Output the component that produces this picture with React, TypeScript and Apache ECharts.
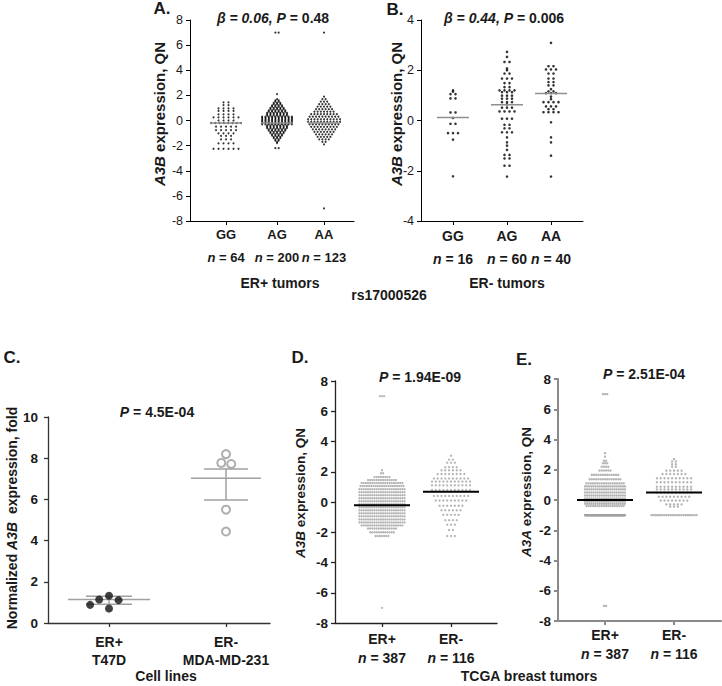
import React, { useEffect, useRef } from "react";
import * as echarts from "echarts";

// ---------------- data ----------------
// Panels A/B: rs17000526 genotypes
const genotypes = ["GG", "AG", "AA"];
const nA = [64, 200, 123];
const nB = [16, 60, 40];

// Panel A (ER+ tumors): rows of the dot plot, QN level and number of dots
const aGG_levels = [1.45, 1.23, 0.97, 0.76, 0.49, 0.25, 0.0, -0.2, -0.49, -0.76, -1.02, -1.23, -1.5, -1.82, -2.25];
const aGG_counts = [2, 2, 4, 4, 4, 6, 4, 8, 5, 5, 4, 3, 3, 4, 6];
const aAG_levels = [7.0, 2.1, 1.7, 1.6, 1.5, 1.4, 1.3, 1.2, 1.1, 1.0, 0.9, 0.8, 0.7, 0.6, 0.5, 0.4, 0.3, 0.2, 0.1, 0.0, -0.1, -0.2, -0.3, -0.4, -0.5, -0.6, -0.7, -0.8, -0.9, -1.0, -1.1, -1.2, -1.3, -1.4, -1.5, -1.6, -1.7, -1.8, -2.2];
const aAG_counts = [2, 1, 1, 2, 2, 3, 3, 4, 4, 5, 5, 6, 6, 7, 7, 7, 10, 10, 10, 10, 10, 10, 10, 7, 7, 7, 6, 6, 5, 5, 4, 4, 3, 3, 2, 2, 1, 1, 2];
const aAA_levels = [7.0, 1.9, 1.7, 1.5, 1.3, 1.1, 0.9, 0.7, 0.5, 0.3, 0.1, -0.1, -0.3, -0.5, -0.7, -0.9, -1.1, -1.3, -1.5, -1.7, -1.9, -7.0];
const aAA_counts = [1, 1, 2, 3, 4, 5, 6, 7, 9, 10, 11, 11, 10, 9, 8, 7, 6, 5, 4, 2, 1, 1];
const aMedians = [-0.2, -0.2, -0.2];

// Panel B (ER- tumors): individual values
const bGG = [1.2, 1.15, 1.05, 1.05, 0.88, 0.88, 0.32, 0.32, 0.1, -0.13, -0.13, -0.5, -0.5, -0.5, -0.76, -2.22];
const bAG = [2.73, 2.53, 2.33, 2.33, 2.07, 2.0, 1.87, 1.87, 1.67, 1.67, 1.67, 1.49, 1.49, 1.33, 1.33, 1.2, 1.2, 1.2, 1.2, 1.13, 1.13, 1.13, 0.99, 0.99, 0.99, 0.87, 0.87, 0.87, 0.73, 0.73, 0.73, 0.64, 0.51, 0.51, 0.51, 0.36, 0.36, 0.36, 0.36, 0.07, 0.07, 0.07, -0.17, -0.17, -0.31, -0.31, -0.47, -0.47, -0.47, -0.67, -0.87, -1.0, -1.17, -1.37, -1.37, -1.51, -1.51, -1.8, -1.8, -2.23];
const bAA = [3.09, 2.16, 2.16, 2.03, 2.03, 2.03, 1.87, 1.87, 1.67, 1.67, 1.53, 1.53, 1.4, 1.4, 1.25, 1.16, 1.16, 1.09, 1.09, 1.09, 0.95, 0.85, 0.73, 0.73, 0.73, 0.73, 0.56, 0.56, 0.56, 0.45, 0.45, 0.33, 0.33, 0.33, 0.33, -0.07, -0.67, -0.87, -1.4, -2.23];
const bMedians = [0.12, 0.63, 1.07];

// Panel C: cell lines
const cLabels = ["ER+\nT47D", "ER-\nMDA-MD-231"];
const cERpos = [1.32, 1.14, 1.11, 0.88, 0.7];
const cERneg = [8.2, 7.77, 7.72, 5.5, 4.44];
const cMean = [1.14, 7.03];
const cLower = [0.91, 5.97];
const cUpper = [1.3, 7.48];

// Panels D/E: TCGA breast tumors
const tLabels = ["ER+", "ER-"];
const tN = [387, 116];
const dPos_levels = [7.0, 2.1, 1.9, 1.65, 1.45, 1.25, 1.05, 0.85, 0.65, 0.45, 0.25, 0.05, -0.15, -0.35, -0.55, -0.75, -0.95, -1.15, -1.35, -1.55, -1.75, -2.0, -2.25, -7.0];
const dPos_counts = [3, 1, 2, 8, 14, 20, 21, 22, 22, 22, 22, 22, 22, 22, 22, 22, 22, 22, 22, 20, 14, 12, 7, 1];
const dNeg_levels = [3.06, 2.8, 2.6, 2.3, 2.1, 1.85, 1.55, 1.35, 1.1, 0.8, 0.4, 0.1, -0.25, -0.55, -0.85, -1.2, -1.5, -1.85, -2.25];
const dNeg_counts = [1, 2, 3, 4, 6, 8, 10, 11, 11, 11, 10, 9, 7, 6, 5, 4, 3, 2, 3];
const dMeans = [-0.21, 0.67];
const ePos_levels = [7.0, 3.1, 2.87, 2.6, 2.43, 2.2, 1.95, 1.66, 1.37, 1.1, 0.9, 0.7, 0.5, 0.3, 0.1, -0.1, -0.25, -0.4, -1.0, -7.0];
const ePos_counts = [3, 1, 1, 2, 3, 4, 6, 13, 15, 18, 20, 20, 20, 20, 20, 20, 20, 18, 161, 2];
const eNeg_levels = [2.7, 2.54, 2.36, 2.2, 1.94, 1.72, 1.44, 1.17, 0.88, 0.7, 0.49, 0.22, -0.04, -0.29, -0.44, -1.0];
const eNeg_counts = [1, 2, 2, 2, 5, 7, 10, 10, 10, 10, 10, 9, 8, 5, 3, 22];
const eMeans = [0.0, 0.49];

// ---------------- layout helpers ----------------
const FONT = "'Liberation Sans', Arial, Helvetica, sans-serif";
const TXT = "#1a1a1a";
type Pt = [number, number];

function rowLayout(levels: number[], counts: number[], center: number, spacing: number, maxWidth: number): Pt[] {
  const pts: Pt[] = [];
  levels.forEach((v, i) => {
    const n = counts[i];
    const s = n > 1 ? Math.min(spacing, maxWidth / (n - 1)) : 0;
    for (let k = 0; k < n; k++) pts.push([center + (k - (n - 1) / 2) * s, v]);
  });
  return pts;
}
function grouped(values: number[]) {
  const m = new Map<number, number>();
  values.forEach((v) => m.set(v, (m.get(v) || 0) + 1));
  return { levels: [...m.keys()], counts: [...m.values()] };
}
function beeswarm(values: number[], center: number, pxPerUnit: number, d: number): Pt[] {
  const placed: { x: number; y: number; v: number }[] = [];
  [...values].sort((a, b) => b - a).forEach((v) => {
    const y = v * pxPerUnit;
    const near = placed.filter((p) => Math.abs(p.y - y) < d);
    const need = (p: { y: number }) => Math.sqrt(d * d - (p.y - y) * (p.y - y));
    const cands = [0];
    near.forEach((p) => cands.push(p.x + need(p), p.x - need(p)));
    cands.sort((a, b) => Math.abs(a) - Math.abs(b) || a - b);
    const x = cands.find((c) => near.every((p) => Math.abs(p.x - c) >= need(p) - 1e-6)) ?? 0;
    placed.push({ x, y, v });
  });
  return placed.map((p) => [center + p.x, p.v] as Pt);
}

// grids (pixels)
const GRIDS = [
  { left: 190, top: 20, width: 164, height: 201 },
  { left: 421, top: 20, width: 162, height: 201 },
  { left: 48, top: 417, width: 222, height: 206 },
  { left: 335, top: 381, width: 162, height: 242 },
  { left: 558, top: 379, width: 163, height: 242 },
];
const POS_A = [36, 87, 134];
const POS_B = [32, 86, 130];
const POS_C = [61, 178];
const POS_D = [47, 116];
const POS_E = [47, 116];

function idx(pos: number[], v: number) {
  return pos.findIndex((p) => Math.abs(p - v) < 0.5);
}

function richSet(size: number, lh: number) {
  const base = { fontSize: size, fontWeight: "bold" as const, fontFamily: FONT, color: TXT, lineHeight: lh };
  return { c: { ...base }, ni: { ...base, fontStyle: "italic" as const }, nv: { ...base } };
}

function xAxisFor(g: number, pos: number[], fmt: (i: number) => string, size: number, lh: number, margin: number, color: string, lw: number) {
  return {
    type: "value", gridIndex: g, min: 0, max: GRIDS[g].width,
    splitLine: { show: false },
    axisLine: { show: true, onZero: false, lineStyle: { color, width: lw } },
    axisTick: { show: true, customValues: pos, length: 4, lineStyle: { color, width: lw } },
    axisLabel: {
      show: true, customValues: pos, margin, hideOverlap: false, showMinLabel: true, showMaxLabel: true,
      formatter: (v: number) => fmt(idx(pos, v)),
      rich: richSet(size, lh),
    },
  };
}
function yAxisFor(g: number, min: number, max: number, interval: number, size: number, bold: boolean, margin: number, color: string, lw: number) {
  return {
    type: "value", gridIndex: g, min, max, interval,
    splitLine: { show: false },
    axisLine: { show: true, onZero: false, lineStyle: { color, width: lw } },
    axisTick: { show: true, length: 4, lineStyle: { color, width: lw } },
    axisLabel: {
      margin, hideOverlap: false, showMinLabel: true, showMaxLabel: true,
      fontSize: size, fontWeight: bold ? "bold" : "normal", fontFamily: FONT, color: TXT,
    },
  };
}

function hline(g: number, c: number, half: number, v: number, color: string, width: number, z = 4) {
  return {
    type: "line", xAxisIndex: g, yAxisIndex: g, data: [[c - half, v], [c + half, v]],
    symbol: "none", lineStyle: { color, width }, silent: true, z,
  };
}
function vline(g: number, c: number, lo: number, hi: number, color: string, width: number, z = 4) {
  return {
    type: "line", xAxisIndex: g, yAxisIndex: g, data: [[c, lo], [c, hi]],
    symbol: "none", lineStyle: { color, width }, silent: true, z,
  };
}
function dots(g: number, data: Pt[], color: string, size: number, z = 3) {
  return {
    type: "scatter", xAxisIndex: g, yAxisIndex: g, data, symbol: "circle", symbolSize: size,
    itemStyle: { color }, silent: true, z,
  };
}

function text(x: number, y: number, t: string, size: number, rot = 0, weight = "bold") {
  const base = { fontSize: size, fontWeight: weight, fontFamily: FONT, fill: TXT };
  return {
    type: "text", x, y, rotation: rot, silent: true,
    style: {
      text: t, ...base, align: "center", verticalAlign: "middle",
      rich: { i: { ...base, fontStyle: "italic" }, b: { ...base } },
    },
  };
}

function buildOption() {
  const aDots = [
    ...rowLayout(aGG_levels, aGG_counts, POS_A[0], 5, 30),
    ...rowLayout(aAG_levels, aAG_counts, POS_A[1], 3.3, 32),
    ...rowLayout(aAA_levels, aAA_counts, POS_A[2], 3.2, 34),
  ];
  const bGroups = [bGG, bAG, bAA].map(grouped);
  const bDots = bGroups.flatMap((gr, i) => rowLayout(gr.levels, gr.counts, POS_B[i], 5, 40));
  const cPos = beeswarm(cERpos, POS_C[0], 20.5, 10.5);
  const cNeg = beeswarm(cERneg, POS_C[1], 20.5, 10);
  const dDots = [
    ...rowLayout(dPos_levels, dPos_counts, POS_D[0], 2.15, 46),
    ...rowLayout(dNeg_levels, dNeg_counts, POS_D[1], 3.8, 46),
  ];
  const eDots = [
    ...rowLayout(ePos_levels, ePos_counts, POS_E[0], 2.2, 40),
    ...rowLayout(eNeg_levels, eNeg_counts, POS_E[1], 3.8, 45),
  ];

  const gray = "#8f8f8f";
  const series: any[] = [
    dots(0, aDots, "#000", 2),
    ...aMedians.map((m, i) => hline(0, POS_A[i], 16, m, gray, 1.5)),
    dots(1, bDots, "#000", 2.6),
    ...bMedians.map((m, i) => hline(1, POS_B[i], 16, m, gray, 1.5)),
    hline(2, POS_C[0], 41, cMean[0], "#a0a0a0", 1.5, 2),
    hline(2, POS_C[0], 23, cLower[0], "#a0a0a0", 1.5, 2),
    hline(2, POS_C[0], 23, cUpper[0], "#a0a0a0", 1.5, 2),
    vline(2, POS_C[0], cLower[0], cUpper[0], "#a0a0a0", 1.5, 2),
    hline(2, POS_C[1], 35, cMean[1], "#a0a0a0", 1.5, 2),
    hline(2, POS_C[1], 22, cLower[1], "#a0a0a0", 1.5, 2),
    hline(2, POS_C[1], 22, cUpper[1], "#a0a0a0", 1.5, 2),
    vline(2, POS_C[1], cLower[1], cUpper[1], "#a0a0a0", 1.5, 2),
    dots(2, cPos, "#111", 8, 5),
    {
      type: "scatter", xAxisIndex: 2, yAxisIndex: 2, data: cNeg, symbol: "circle", symbolSize: 8,
      itemStyle: { color: "rgba(0,0,0,0)", borderColor: "#9a9a9a", borderWidth: 2 }, silent: true, z: 5,
    },
    dots(3, dDots, "#a3a3a3", 2.3),
    ...dMeans.map((m, i) => hline(3, POS_D[i], 28, m, "#000", 2)),
    dots(4, eDots, "#a3a3a3", 2.4),
    ...eMeans.map((m, i) => hline(4, POS_E[i], 28, m, "#000", 2)),
  ];

  const gtFmt = (ns: number[]) => (i: number) => `{c|${genotypes[i]}}\n{ni|n}{nv| = ${ns[i]}}`;
  const tFmt = (i: number) => `{c|${tLabels[i]}}\n{ni|n}{nv| = ${tN[i]}}`;
  const cFmt = (i: number) => cLabels[i].split("\n").map((s) => `{c|${s}}`).join("\n");

  const R = Math.PI / 2;
  const graphic = [
    text(162, 8, "A.", 17), text(395, 9, "B.", 17), text(12, 357, "C.", 17), text(300, 357, "D.", 17), text(524, 359, "E.", 17),
    text(273, 18, "{i|β = 0.06, P} = 0.48", 14),
    text(504, 18, "{i|β = 0.44, P} = 0.006", 14),
    text(157, 412, "{i|P} = 4.5E-04", 14),
    text(420, 377, "{i|P} = 1.94E-09", 14),
    text(644, 374, "{i|P} = 2.51E-04", 14),
    text(159, 114, "{i|A3B} expression, QN", 15, R),
    text(396, 114, "{i|A3B} expression, QN", 15, R),
    text(12, 518, "Normalized {i|A3B}  expression, fold", 14, R),
    text(300, 493, "{i|A3B} expression, QN", 13.5, R),
    text(526, 492, "{i|A3A} expression, QN", 13.5, R),
    text(280, 283, "ER+ tumors", 14),
    text(507, 283, "ER- tumors", 14),
    text(389, 295, "rs17000526", 14),
    text(166, 676, "Cell lines", 14),
    text(529, 676, "TCGA breast tumors", 14),
  ];

  return {
    animation: false,
    backgroundColor: "#ffffff",
    grid: GRIDS.map((g) => ({ ...g, containLabel: false, outerBoundsMode: "none" })),
    xAxis: [
      xAxisFor(0, POS_A, gtFmt(nA), 13, 23, 2, "#000", 1),
      xAxisFor(1, POS_B, gtFmt(nB), 14, 23, 3, "#000", 1),
      xAxisFor(2, POS_C, cFmt, 14, 18, 10, "#333", 1.3),
      xAxisFor(3, POS_D, tFmt, 14, 19, 6, "#222", 1.3),
      xAxisFor(4, POS_E, tFmt, 14, 18.5, 5, "#8a8a8a", 2),
    ],
    yAxis: [
      yAxisFor(0, -8, 8, 2, 12.5, false, 7, "#000", 1),
      yAxisFor(1, -4, 4, 2, 12.5, false, 7, "#000", 1),
      yAxisFor(2, 0, 10, 2, 13.5, true, 10, "#333", 1.3),
      yAxisFor(3, -8, 8, 2, 13.5, true, 7, "#222", 1.3),
      yAxisFor(4, -8, 8, 2, 13.5, true, 7, "#8a8a8a", 2),
    ],
    series,
    graphic,
  };
}

export default function App() {
  const ref = useRef<HTMLDivElement>(null);
  useEffect(() => {
    if (!ref.current) return;
    const chart = echarts.init(ref.current, undefined, { renderer: "svg" });
    chart.setOption(buildOption() as any);
    return () => chart.dispose();
  }, []);
  return (
    <div
      ref={ref}
      style={{ position: "fixed", left: 0, top: 0, width: 722, height: 686, background: "#fff" }}
    />
  );
}
